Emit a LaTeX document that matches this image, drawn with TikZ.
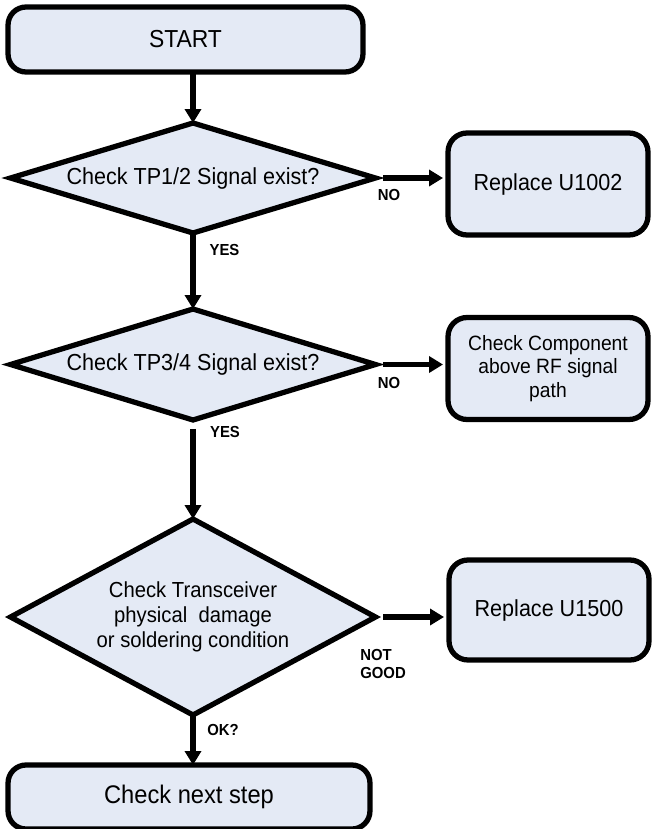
\documentclass[tikz,border=0pt]{standalone}
\usepackage{fontspec}
\setmainfont{Liberation Sans}[FakeStretch=0.93]
\usetikzlibrary{
    arrows.meta,
    shapes.geometric
}
\definecolor{boxfill}{RGB}{228,234,245}
\def\dwidth{7.3cm}
\def\bwidth{4cm}
\tikzset{
    base/.style={
        draw,
        line width=3pt,
        fill=boxfill,
        outer sep=0pt,
        align=center,
        font=\fontsize{13.2}{14.2}\selectfont,
    },
    terminal/.style={
        base,
        rectangle,
        rounded corners=0.36cm,
    },
    process/.style={
        base,
        rectangle,
        rounded corners=0.38cm,
        minimum width=\bwidth,
        minimum height=2.04cm,
    },
    decision/.style={
        base,
        diamond,
        inner sep=0pt,
        minimum width=\dwidth,
    },
    answer/.style={
        font=\bfseries\fontsize{9.1}{10.2}\selectfont,
        inner sep=0pt,
        align=left,
    },
    flow/.style={
        line width=2.9pt,
        -{Triangle[length=0.28cm,width=0.32cm]},
    },
}

\begin{document}
\begin{tikzpicture}[x=0.02cm, y=-0.02cm]
    \useasboundingbox (0,0) rectangle (652,829);

    \node (start) [terminal, minimum width=7.1cm, minimum height=1.3cm,
        font=\fontsize{14}{15}\selectfont] at (185.5,39.5) {START};

    \node (d1) [decision, aspect=3.32, minimum height=2.2cm] at (193,178)
        {Check TP1/2 Signal exist?};
    \node (d2) [decision, aspect=3.29, minimum height=2.22cm] at (193,364.5)
        {Check TP3/4 Signal exist?};
    \node (d3) [decision, aspect=1.86, minimum height=3.92cm, font=\fontsize{12.4}{14.2}\selectfont]
        at (193,617) {Check Transceiver\\physical\ \ damage\\or soldering condition};

    \node (b1) [process] at (548,184) {Replace U1002};
    \node (b2) [process, font=\fontsize{11.8}{13.2}\selectfont] at (548,368.5)
        {Check Component\\above RF signal\\path};
    \node (b3) [process, minimum height=2cm] at (549,610) {Replace U1500};

    \node (next) [terminal, minimum width=7.24cm, minimum height=1.28cm,
        font=\fontsize{14.5}{16}\selectfont] at (189,797) {Check next step};

    \draw [flow] (start.south -| d1.north) -- (d1.north);
    \draw [flow] (d1.south) -- (d2.north);
    \draw [flow, shorten <=0.18cm] (d2.south) -- (d3.north);
    \draw [flow] (d3.south) -- (next.north -| d3.south);
    \draw [flow, shorten <=0.16cm, shorten >=0.1cm] (d1.east) -- (d1.east -| b1.west);
    \draw [flow, shorten <=0.16cm, shorten >=0.1cm] (d2.east) -- (d2.east -| b2.west);
    \draw [flow, shorten <=0.16cm, shorten >=0.1cm] (d3.east) -- (d3.east -| b3.west);

    \node (no1) [answer] at (389,195) {NO};
    \node (yes1) [answer] at (224.5,250) {YES};
    \node (no2) [answer] at (389,383) {NO};
    \node (yes2) [answer] at (225,432) {YES};
    \node (notgood) [answer, anchor=west] at (360,664) {NOT\\GOOD};
    \node (ok) [answer] at (223,730) {OK?};
\end{tikzpicture}
\end{document}
